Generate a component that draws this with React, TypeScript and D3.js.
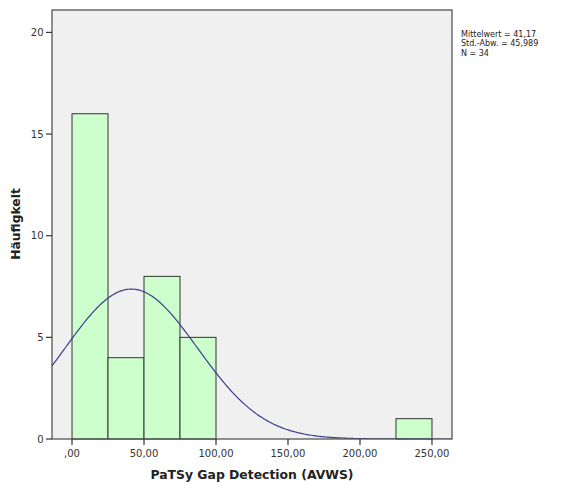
import React from "react";
import * as d3 from "d3";

const binStarts = [0, 25, 50, 75, 225];
const binWidth = 25;
const counts = [16, 4, 8, 5, 1];
const xTicks = [0, 50, 100, 150, 200, 250];
const yTicks = [0, 5, 10, 15, 20];
const mean = 41.17;
const sd = 45.989;
const n = 34;
const statLines = ["Mittelwert = 41,17", "Std.-Abw. = 45,989", "N = 34"];

const fmtX = (v: number) => (v === 0 ? ",00" : v.toFixed(2).replace(".", ","));

export default function App() {
  const W = 567, H = 485;
  const left = 52, right = 452, top = 10, bottom = 439;
  const x = d3.scaleLinear().domain([-13.9, 263.9]).range([left, right]);
  const y = d3.scaleLinear().domain([0, (bottom - top) / 20.33]).range([bottom, top]);
  const dens = (v: number) =>
    (n * binWidth) / (sd * Math.sqrt(2 * Math.PI)) * Math.exp(-0.5 * ((v - mean) / sd) ** 2);
  const pts = d3.range(-13.9, 263.9 + 0.01, 1).map((v) => [v, dens(v)] as [number, number]);
  const line = d3.line<[number, number]>().x((d) => x(d[0])).y((d) => y(d[1]));
  const font = "'DejaVu Sans', sans-serif";
  return (
    <svg width={W} height={H} style={{ position: "absolute", left: 0, top: 0 }} fontFamily={font}>
      <rect x={0} y={0} width={W} height={H} fill="#fff" />
      <rect x={left} y={top} width={right - left} height={bottom - top} fill="#f0f0f0" />
      <defs>
        <clipPath id="pc">
          <rect x={left} y={top} width={right - left} height={bottom - top} />
        </clipPath>
      </defs>
      {binStarts.map((b, i) => (
        <rect key={i} x={x(b)} y={y(counts[i])} width={x(b + binWidth) - x(b)} height={y(0) - y(counts[i])}
          fill="#ccffcc" stroke="#333" strokeWidth={1} />
      ))}
      <path d={line(pts) || ""} fill="none" stroke="#3d3d8f" strokeWidth={1.2} clipPath="url(#pc)" />
      <rect x={left} y={top} width={right - left} height={bottom - top} fill="none" stroke="#555" strokeWidth={1.3} />
      {yTicks.map((t) => (
        <g key={t}>
          <line x1={left - 6} x2={left} y1={y(t)} y2={y(t)} stroke="#333" strokeWidth={1.2} />
          <text x={left - 8.5} y={y(t)} dy="0.35em" textAnchor="end" fontSize={10} fill="#333">{t}</text>
        </g>
      ))}
      {xTicks.map((t) => (
        <g key={t}>
          <line x1={x(t)} x2={x(t)} y1={bottom} y2={bottom + 6} stroke="#333" strokeWidth={1.2} />
          <text x={x(t)} y={bottom + 18} textAnchor="middle" fontSize={10} fill="#333">{fmtX(t)}</text>
        </g>
      ))}
      <text x={252} y={479} textAnchor="middle" fontSize={12.4} fontWeight="bold" fill="#222">
        PaTSy Gap Detection (AVWS)
      </text>
      <text transform={`translate(20,224) rotate(-90)`} textAnchor="middle" fontSize={12.3}
        fontWeight="bold" fill="#222">Häufigkeit</text>
      {statLines.map((s, i) => (
        <text key={i} x={461} y={37 + i * 9.4} fontSize={8} fill="#222">{s}</text>
      ))}
    </svg>
  );
}
